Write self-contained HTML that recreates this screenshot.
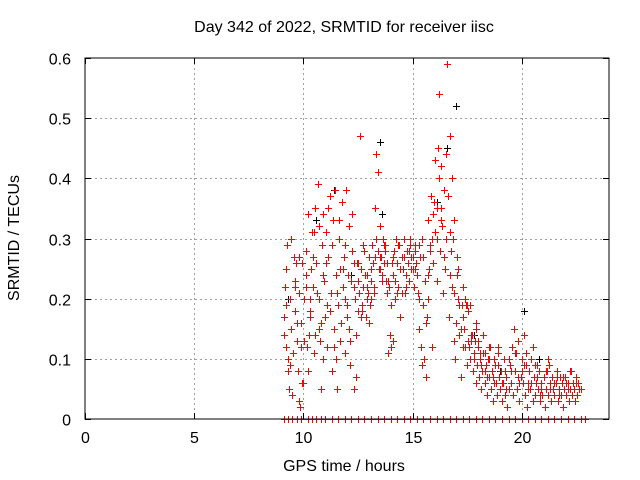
<!DOCTYPE html>
<html><head><meta charset="utf-8"><style>
body{margin:0;background:#fff}
svg{display:block;font-family:"Liberation Sans",sans-serif}
</style></head><body>
<svg id="chart" width="640" height="480" viewBox="0 0 640 480">
<rect width="640" height="480" fill="#fff"/>
<g id="grid"></g>
<g id="blackmarks" fill="#000000" shape-rendering="crispEdges"></g>
<g id="redmarks" fill="#ff0000" shape-rendering="crispEdges"></g>
<rect x="85" y="58" width="524" height="361" fill="none" stroke="#000" stroke-width="1"/>
<g id="ticks"></g>
<text x="344" y="32" font-size="16" text-anchor="middle">Day 342 of 2022, SRMTID for receiver iisc</text>
<text x="344" y="471" font-size="16" text-anchor="middle">GPS time / hours</text>
<text x="19" y="238" font-size="16" text-anchor="middle" transform="rotate(-90 19 238)">SRMTID / TECUs</text>
</svg>
<script>
const xTicks=[0,5,10,15,20];
const yTicks=[0,0.1,0.2,0.3,0.4,0.5,0.6];
const yTickLabels=["0","0.1","0.2","0.3","0.4","0.5","0.6"];
const redTimesA=[9.1,9.15,9.2,9.25,9.3,9.35,9.4,9.45,9.5,9.55,9.6,9.65,9.7,9.75,9.8,9.85,9.9,9.95,10.0,10.05,10.1,10.15,10.2,10.25,10.3,10.35,10.4,10.45,10.5,10.55,10.6,10.65,10.7,10.75,10.8,10.85,10.9,10.95,11.0,11.05,11.1,11.15,11.2,11.25,11.3,11.35,11.4,11.45,11.5,11.55,11.6,11.65,11.7,11.75,11.8,11.85,11.9,11.95,12.0,12.05,12.1,12.15,12.2,12.25,12.3,12.35,12.4,12.45,12.5,12.55,12.6,12.65,12.7,12.75,12.8,12.85,12.9,12.95,13.0,13.05,13.1,13.15,13.2,13.25,13.3,13.35,13.4,13.45,13.5,13.55,13.6,13.65,13.7,13.75,13.8,13.85,13.9,13.95,14.0,14.05,14.1,14.15,14.2,14.25,14.3,14.35,14.4,14.45,14.5,14.55,14.6,14.65,14.7,14.75,14.8,14.85,14.9,14.95,15.0,15.05,15.1,15.15,15.2,15.25,15.3,15.35,15.4,15.45,15.5,15.55,15.6,15.65,15.7,15.75,15.8,15.85,15.9,15.95,16.0,16.05,16.1,16.15,16.2,16.25,16.3,16.35,16.4,16.45,16.5,16.55,16.6,16.65,16.7,16.75,16.8,16.85,16.9,16.95,17.0,17.05,17.1,17.15,17.2,17.25,17.3,17.35,17.4,17.45,17.5,17.55,17.6,17.65,17.7,17.75,17.8,17.85,17.9,17.95,18.0,18.05,18.1,18.15,18.2,18.25,18.3,18.35,18.4,18.45,18.5,18.55,18.6,18.65,18.7,18.75,18.8,18.85,18.9,18.95,19.0,19.05,19.1,19.15,19.2,19.25,19.3,19.35,19.4,19.45,19.5,19.55,19.6,19.65,19.7,19.75,19.8,19.85,19.9,19.95,20.0,20.05,20.1,20.15,20.2,20.25,20.3,20.35,20.4,20.45,20.5,20.55,20.6,20.65,20.7,20.75,20.8,20.85,20.9,20.95,21.0,21.05,21.1,21.15,21.2,21.25,21.3,21.35,21.4,21.45,21.5,21.55,21.6,21.65,21.7,21.75,21.8,21.85,21.9,21.95,22.0,22.05,22.1,22.15,22.2,22.25,22.3,22.35,22.4,22.45,22.5,22.55,22.6,22.65,22.7,22.75,22.8];
const redValsA=[0.17,0.22,0.12,0.29,0.1,0.05,0.2,0.15,0.04,0.27,0.18,0.26,0.13,0.08,0.21,0.02,0.16,0.26,0.06,0.2,0.24,0.12,0.34,0.14,0.18,0.25,0.31,0.22,0.11,0.35,0.26,0.39,0.2,0.13,0.05,0.29,0.34,0.23,0.17,0.31,0.12,0.27,0.37,0.21,0.08,0.33,0.15,0.38,0.24,0.05,0.19,0.3,0.13,0.36,0.22,0.27,0.11,0.38,0.17,0.24,0.32,0.09,0.23,0.28,0.05,0.2,0.14,0.26,0.18,0.21,0.47,0.25,0.19,0.22,0.28,0.17,0.24,0.21,0.27,0.19,0.23,0.29,0.26,0.22,0.35,0.44,0.28,0.25,0.32,0.27,0.24,0.3,0.26,0.29,0.23,0.21,0.11,0.14,0.19,0.26,0.24,0.28,0.2,0.3,0.26,0.22,0.29,0.17,0.27,0.25,0.3,0.21,0.24,0.28,0.26,0.23,0.29,0.27,0.25,0.22,0.28,0.26,0.24,0.21,0.15,0.27,0.12,0.09,0.19,0.23,0.07,0.17,0.33,0.25,0.28,0.37,0.3,0.26,0.36,0.43,0.35,0.45,0.54,0.28,0.42,0.32,0.21,0.38,0.25,0.3,0.59,0.17,0.47,0.28,0.22,0.3,0.13,0.1,0.16,0.24,0.2,0.14,0.07,0.19,0.12,0.15,0.2,0.19,0.09,0.13,0.12,0.1,0.14,0.08,0.11,0.13,0.06,0.09,0.12,0.07,0.1,0.05,0.08,0.11,0.06,0.09,0.04,0.1,0.07,0.12,0.05,0.08,0.03,0.06,0.09,0.04,0.11,0.07,0.05,0.08,0.03,0.06,0.1,0.04,0.07,0.02,0.05,0.09,0.06,0.12,0.04,0.15,0.08,0.11,0.05,0.13,0.03,0.07,0.1,0.06,0.14,0.04,0.09,0.02,0.06,0.08,0.05,0.1,0.03,0.07,0.04,0.06,0.09,0.05,0.08,0.03,0.06,0.04,0.07,0.02,0.05,0.08,0.04,0.09,0.06,0.03,0.07,0.05,0.04,0.06,0.08,0.03,0.05,0.07,0.04,0.06,0.02,0.05,0.07,0.04,0.06,0.03,0.05,0.08,0.04,0.06,0.05,0.03,0.07,0.04,0.06];
const redTimesB=[9.2,9.4,9.6,9.8,9.9,10.1,10.3,10.5,10.7,10.9,11.1,11.3,11.5,11.7,11.9,12.1,12.3,12.5,12.7,12.9,13.1,13.3,13.5,13.7,13.9,14.1,14.3,14.5,14.7,14.9,15.1,15.3,15.5,15.7,15.9,16.1,16.3,16.5,16.7,16.9,17.1,17.3,17.5,17.7,17.9,18.1,18.3,18.5,18.7,18.9,19.1,19.3,19.5,19.7,19.9,20.1,20.3,20.5,20.7,20.9,21.1,21.3,21.5,21.7,21.9,22.1,22.3,22.5,22.7];
const redValsB=[0.25,0.09,0.23,0.03,0.12,0.28,0.2,0.31,0.15,0.24,0.19,0.29,0.1,0.25,0.2,0.15,0.22,0.26,0.18,0.22,0.2,0.27,0.25,0.29,0.23,0.13,0.21,0.27,0.24,0.3,0.25,0.29,0.27,0.2,0.12,0.3,0.35,0.25,0.31,0.21,0.25,0.17,0.19,0.13,0.15,0.11,0.08,0.1,0.07,0.09,0.06,0.05,0.08,0.11,0.06,0.09,0.05,0.12,0.07,0.05,0.08,0.05,0.06,0.04,0.07,0.05,0.04,0.06,0.05];
const redTimesC=[9.12,9.22,9.32,9.42,9.52,9.62,9.72,9.82,9.92,10.02,10.12,10.22,10.32,10.42,10.52,10.62,10.72,10.82,10.92,11.02,11.12,11.22,11.32,11.42,11.52,11.62,11.72,11.82,11.92,12.02,12.12,12.22,12.32,12.42,12.52,12.62,12.72,12.82,12.92,13.02,13.12,13.22,13.32,13.42,13.52,13.62,13.72,13.82,13.92,14.02,14.12,14.22,14.32,14.42,14.52,14.62,14.72,14.82,14.92,15.02,15.12,15.22,15.32,15.42,15.52,15.62,15.72,15.82,15.92,16.02,16.12,16.22,16.32,16.42,16.52,16.62,16.72,16.82,16.92,17.02,17.12,17.22,17.32,17.42,17.52,17.62,17.72,17.82,17.92,18.02,18.12,18.22,18.32,18.42,18.52,18.62,18.72,18.82,18.92,19.02,19.22,19.42,19.62,19.82,20.02,20.22,20.42,20.62,20.82,21.02,21.22,21.42,21.62,21.82,22.02,22.22,22.42,22.62];
const redValsC=[0.14,0.19,0.08,0.3,0.11,0.22,0.16,0.27,0.06,0.13,0.22,0.08,0.17,0.27,0.14,0.21,0.32,0.16,0.1,0.26,0.35,0.18,0.29,0.12,0.21,0.33,0.16,0.25,0.29,0.19,0.13,0.34,0.26,0.07,0.23,0.17,0.29,0.24,0.2,0.16,0.25,0.21,0.3,0.41,0.27,0.23,0.28,0.26,0.22,0.12,0.27,0.23,0.29,0.25,0.21,0.27,0.22,0.28,0.25,0.27,0.29,0.24,0.2,0.3,0.1,0.16,0.24,0.29,0.34,0.31,0.23,0.4,0.33,0.27,0.44,0.37,0.24,0.4,0.33,0.27,0.19,0.15,0.22,0.12,0.18,0.19,0.14,0.1,0.16,0.13,0.09,0.14,0.11,0.07,0.12,0.08,0.1,0.06,0.12,0.05,0.08,0.1,0.04,0.07,0.08,0.11,0.06,0.09,0.04,0.07,0.1,0.05,0.07,0.04,0.06,0.08,0.03,0.05];
const zeroTimes=[9.1,9.3,9.5,9.7,9.9,10.2,10.4,10.6,10.8,11.0,11.3,11.6,11.9,12.2,12.5,12.8,13.1,13.4,13.7,14.0,14.3,14.6,14.9,15.2,15.5,15.8,16.1,16.4,16.7,17.0,17.3,17.6,17.9,18.2,18.5,18.8,19.1,19.4,19.7,20.0,20.3,20.6,20.9,21.2,21.5,21.8,22.1,22.4,22.7,22.9];
const blackTimes=[9.3,10.6,11.4,12.2,13.5,13.6,14.8,16.1,16.6,17.0,17.8,19.0,20.1,20.8,21.6];
const blackVals=[0.2,0.33,0.38,0.24,0.46,0.34,0.26,0.36,0.45,0.52,0.14,0.08,0.18,0.1,0.08];
const NS="http://www.w3.org/2000/svg";
const X0=85,X1=609,Y0=419,Y1=58;
function xs(t){return X0+(t-0)/(24-0)*(X1-X0);}
function ys(v){return Y0-(v-0)/(0.6-0)*(Y0-Y1);}
const grid=document.getElementById('grid'),ticks=document.getElementById('ticks');
const blackG=document.getElementById('blackmarks'),redG=document.getElementById('redmarks');
function line(p,x1,y1,x2,y2,st,dash){const l=document.createElementNS(NS,'line');l.setAttribute('x1',x1);l.setAttribute('y1',y1);l.setAttribute('x2',x2);l.setAttribute('y2',y2);l.setAttribute('stroke',st);l.setAttribute('stroke-width',1);if(dash)l.setAttribute('stroke-dasharray',dash);p.appendChild(l);return l;}
function txt(p,x,y,s,anchor){const t=document.createElementNS(NS,'text');t.setAttribute('x',x);t.setAttribute('y',y);t.setAttribute('font-size','16');t.setAttribute('text-anchor',anchor);t.textContent=s;p.appendChild(t);return t;}
xTicks.forEach(v=>{const x=Math.round(xs(v))+0.5;
 if(v>0){const g=line(grid,x,Y1,x,Y0,'#a0a0a0','2,3');}
 line(ticks,x,Y0,x,Y0-6,'#000');line(ticks,x,Y1,x,Y1+6,'#000');
 const t=txt(ticks,x,443,String(v),'middle');});
yTicks.forEach((v,i)=>{const y=Math.round(ys(v))+0.5;
 if(v>0&&v<0.6){const g=line(grid,X0,y,X1,y,'#a0a0a0','2,3');}
 line(ticks,X0,y,X0+6,y,'#000');line(ticks,X1,y,X1-6,y,'#000');
 const t=txt(ticks,71,y+6,yTickLabels[i],'end');});
function plus(parent,t,v,name){if(!isFinite(t)||!isFinite(v))return;const x=Math.round(xs(t)),y=Math.round(ys(v));
const p=document.createElementNS(NS,'path');
p.setAttribute('d',`M${x-3} ${y}h7v1h-7zM${x} ${y-3}h1v7h-1z`);


parent.appendChild(p);}
function series(parent,ts,vs,name){const n=Math.min(ts.length,vs.length);for(let i=0;i<n;i++)plus(parent,ts[i],vs[i],name);}
series(blackG,blackTimes,blackVals,'black-point');
series(redG,redTimesA,redValsA,'red-point');
series(redG,redTimesB,redValsB,'red-point');
series(redG,redTimesC,redValsC,'red-point');
zeroTimes.forEach(t=>plus(redG,t,0,'zero-point'));
</script>
</body></html>
